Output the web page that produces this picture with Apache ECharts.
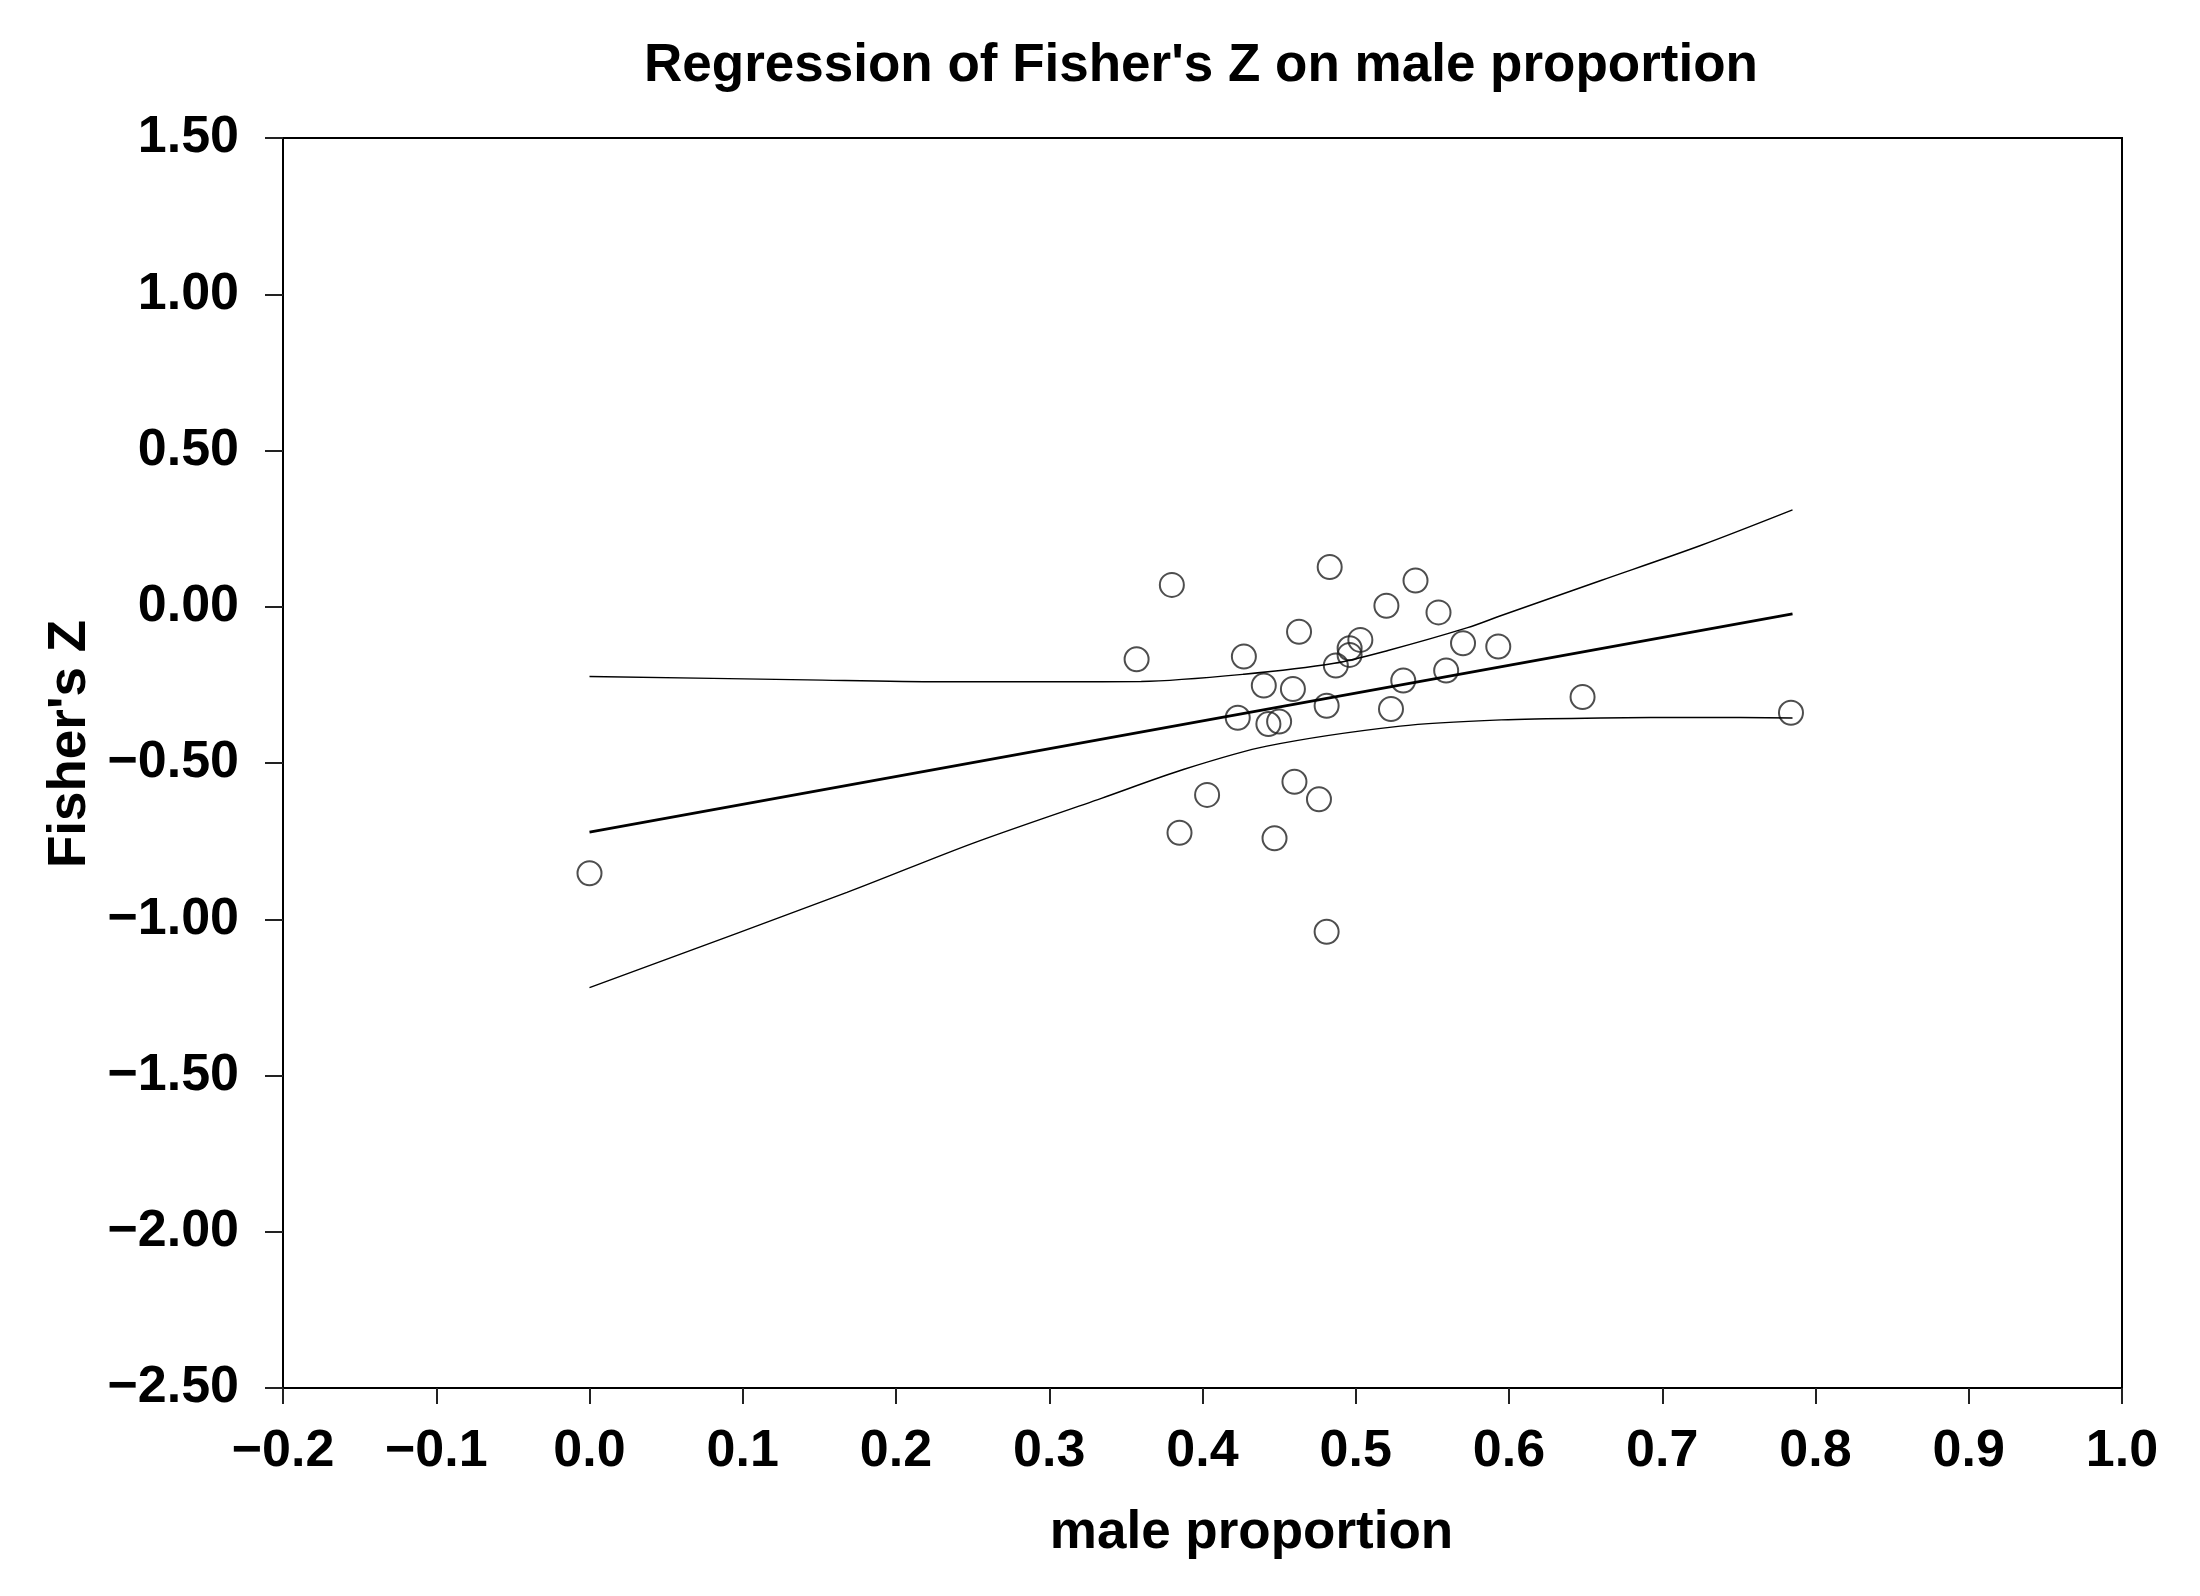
<!DOCTYPE html>
<html>
<head>
<meta charset="utf-8">
<script src="https://cdn.jsdelivr.net/npm/echarts@6/dist/echarts.min.js"></script>
<style>
html,body{margin:0;padding:0;background:#fff;}
#chart{width:2200px;height:1596px;}
</style>
</head>
<body>
<div id="chart"></div>
<script>
// ---- data ----
const titleText = "Regression of Fisher's Z on male proportion";
const xName = "male proportion";
const yName = "Fisher's Z";

// scatter points (male proportion, Fisher's Z)
const maleProportion = [0.000, 0.357, 0.380, 0.385, 0.403, 0.423, 0.427, 0.440, 0.443, 0.447, 0.450,
  0.459, 0.460, 0.463, 0.476, 0.481, 0.481, 0.483, 0.487, 0.496, 0.496, 0.503, 0.520, 0.523,
  0.531, 0.539, 0.554, 0.559, 0.570, 0.593, 0.648, 0.784];
const fishersZ = [-0.853, -0.168, 0.070, -0.723, -0.602, -0.355, -0.159, -0.252, -0.375, -0.741, -0.367,
  -0.263, -0.560, -0.080, -0.616, -0.317, -1.040, 0.127, -0.188, -0.133, -0.154, -0.106, 0.003, -0.327,
  -0.236, 0.084, -0.018, -0.204, -0.117, -0.127, -0.289, -0.339];

// regression line end points
const fitX = [0.000, 0.785];
const fitY = [-0.721, -0.023];

// confidence band
const upperX = [0.000, 0.142, 0.229, 0.309, 0.360, 0.427, 0.486, 0.521, 0.573, 0.595, 0.660, 0.725, 0.785];
const upperY = [-0.223, -0.234, -0.240, -0.240, -0.239, -0.216, -0.181, -0.140, -0.067, -0.028, 0.084, 0.196, 0.310];
const lowerX = [0.000, 0.168, 0.250, 0.334, 0.388, 0.442, 0.529, 0.595, 0.660, 0.725, 0.785];
const lowerY = [-1.219, -0.914, -0.757, -0.613, -0.520, -0.446, -0.382, -0.362, -0.356, -0.354, -0.356];

// axis ticks
const xTickValues = [-0.2, -0.1, 0.0, 0.1, 0.2, 0.3, 0.4, 0.5, 0.6, 0.7, 0.8, 0.9, 1.0];
const xTickLabels = ["\u22120.2", "\u22120.1", "0.0", "0.1", "0.2", "0.3", "0.4", "0.5", "0.6", "0.7", "0.8", "0.9", "1.0"];
const yTickValues = [-2.5, -2.0, -1.5, -1.0, -0.5, 0.0, 0.5, 1.0, 1.5];
const yTickLabels = ["\u22122.50", "\u22122.00", "\u22121.50", "\u22121.00", "\u22120.50", "0.00", "0.50", "1.00", "1.50"];

// ---- build chart ----
const FONT = "'Liberation Sans', Arial, sans-serif";
function zip(a, b) { return a.map((v, i) => [v, b[i]]); }
function labelFor(values, labels) {
  return function (v) {
    for (let i = 0; i < values.length; i++) {
      if (Math.abs(values[i] - v) < 1e-6) return labels[i];
    }
    return '';
  };
}

const chart = echarts.init(document.getElementById('chart'), null, { renderer: 'canvas' });
chart.setOption({
  animation: false,
  backgroundColor: '#ffffff',
  title: {
    text: titleText,
    left: 1196,
    textAlign: 'center',
    top: 35,
    textStyle: { fontFamily: FONT, fontWeight: 'bold', fontSize: 53, color: '#000' }
  },
  grid: {
    left: 283, right: 78, top: 138, bottom: 208,
    show: true, borderColor: '#000', borderWidth: 2, backgroundColor: 'transparent'
  },
  xAxis: {
    type: 'value',
    min: -0.2, max: 1.0, interval: 0.1,
    name: xName,
    nameLocation: 'middle',
    nameGap: 119,
    nameTextStyle: { fontFamily: FONT, fontWeight: 'bold', fontSize: 53, color: '#000', padding: [0, 0, 0, 98] },
    axisLine: { show: true, onZero: false, lineStyle: { color: '#000', width: 2 } },
    axisTick: { show: true, inside: false, length: 16, lineStyle: { color: '#222', width: 2 } },
    axisLabel: {
      margin: 38,
      formatter: labelFor(xTickValues, xTickLabels),
      fontFamily: FONT, fontWeight: 'bold', fontSize: 52, color: '#000'
    },
    splitLine: { show: false }
  },
  yAxis: {
    type: 'value',
    min: -2.5, max: 1.5, interval: 0.5,
    name: yName,
    nameLocation: 'middle',
    nameRotate: 90,
    nameGap: 186,
    nameTextStyle: { fontFamily: FONT, fontWeight: 'bold', fontSize: 53, color: '#000', padding: [0, 0, 0, 38] },
    axisLine: { show: true, onZero: false, lineStyle: { color: '#000', width: 2 } },
    axisTick: { show: true, inside: false, length: 18, lineStyle: { color: '#222', width: 2 } },
    axisLabel: {
      margin: 44,
      formatter: labelFor(yTickValues, yTickLabels),
      fontFamily: FONT, fontWeight: 'bold', fontSize: 52, color: '#000'
    },
    splitLine: { show: false }
  },
  series: [
    {
      type: 'line',
      data: zip(upperX, upperY),
      smooth: 0.3,
      showSymbol: false, symbol: 'none',
      lineStyle: { color: '#000', width: 1.4 },
      silent: true
    },
    {
      type: 'line',
      data: zip(lowerX, lowerY),
      smooth: 0.3,
      showSymbol: false, symbol: 'none',
      lineStyle: { color: '#000', width: 1.4 },
      silent: true
    },
    {
      type: 'line',
      data: zip(fitX, fitY),
      showSymbol: false, symbol: 'none',
      lineStyle: { color: '#000', width: 2.8 },
      silent: true
    },
    {
      type: 'scatter',
      data: zip(maleProportion, fishersZ),
      symbol: 'circle',
      symbolSize: 24,
      itemStyle: { color: 'rgba(255,255,255,0)', borderColor: '#222', borderWidth: 2 },
      silent: true
    }
  ]
});
</script>
</body>
</html>
